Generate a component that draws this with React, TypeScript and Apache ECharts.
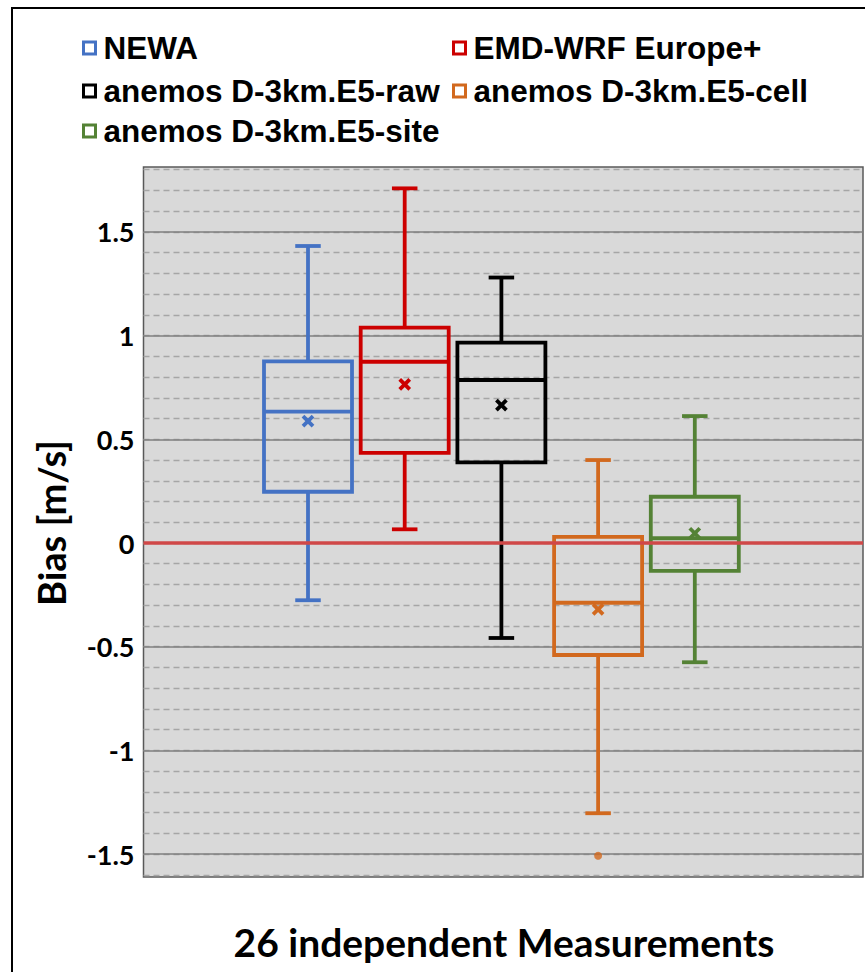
import React, { useEffect, useRef } from 'react';
import * as echarts from 'echarts';

// ---- data ----
const seriesNames = [
  'NEWA',
  'EMD-WRF Europe+',
  'anemos D-3km.E5-raw',
  'anemos D-3km.E5-cell',
  'anemos D-3km.E5-site',
];
const seriesColors = ['#4472C4', '#CC0000', '#000000', '#D2691E', '#548235'];
const whiskerMin = [-0.276, 0.066, -0.458, -1.303, -0.575];
const quartile1 = [0.247, 0.435, 0.389, -0.54, -0.134];
const medians = [0.633, 0.874, 0.786, -0.288, 0.023];
const quartile3 = [0.876, 1.038, 0.966, 0.03, 0.223];
const whiskerMax = [1.432, 1.71, 1.28, 0.4, 0.612];
const means = [0.588, 0.765, 0.665, -0.32, 0.047];
const outliers = [[3, -1.508]];
const majorMin = -1.5;
const majorMax = 1.5;
const majorStep = 0.5;
const minorMin = -1.6;
const minorMax = 1.8;
const minorStep = 0.1;
const zeroLine = [
  [0, 0],
  [1, 0],
];
const yTitle = 'Bias [m/s]';
const xTitle = '26 independent Measurements';

// ---- layout ----
const W = 865;
const H = 972;
const ZERO_Y = 543;
const PX = 207.4; // pixels per unit
const PLOT_LEFT = 143.5;
const PLOT_RIGHT = 863;
const BOX_CENTER0 = 308;
const BOX_STEP = 96.7;
const yOf = (v: number) => ZERO_Y - v * PX;

const legendPos = [
  { left: 82, top: 48 },
  { left: 452, top: 48 },
  { left: 82, top: 91 },
  { left: 452, top: 91 },
  { left: 82, top: 131 },
];

const renderBox = (params: any, api: any) => {
  const i = api.value(0);
  const c = api.visual('color');
  const pMin = api.coord([i, api.value(1)]);
  const pQ1 = api.coord([i, api.value(2)]);
  const pMed = api.coord([i, api.value(3)]);
  const pQ3 = api.coord([i, api.value(4)]);
  const pMax = api.coord([i, api.value(5)]);
  const pMean = api.coord([i, api.value(6)]);
  const band = api.size([1, 0])[0];
  const half = (band * 0.91) / 2;
  const cap = half * 0.29;
  const x = pMed[0];
  const mk = 5;
  const lw = 3.8;
  const ls = { stroke: c, lineWidth: lw, fill: null };
  return {
    type: 'group',
    children: [
      { type: 'line', shape: { x1: x, y1: pMax[1], x2: x, y2: pQ3[1] }, style: ls },
      { type: 'line', shape: { x1: x - cap, y1: pMax[1], x2: x + cap, y2: pMax[1] }, style: ls },
      { type: 'line', shape: { x1: x, y1: pQ1[1], x2: x, y2: pMin[1] }, style: ls },
      { type: 'line', shape: { x1: x - cap, y1: pMin[1], x2: x + cap, y2: pMin[1] }, style: ls },
      {
        type: 'rect',
        shape: { x: x - half, y: pQ3[1], width: 2 * half, height: pQ1[1] - pQ3[1] },
        style: { stroke: c, lineWidth: lw, fill: 'none' },
      },
      { type: 'line', shape: { x1: x - half, y1: pMed[1], x2: x + half, y2: pMed[1] }, style: ls },
      {
        type: 'line',
        shape: { x1: x - mk, y1: pMean[1] - mk, x2: x + mk, y2: pMean[1] + mk },
        style: ls,
      },
      {
        type: 'line',
        shape: { x1: x - mk, y1: pMean[1] + mk, x2: x + mk, y2: pMean[1] - mk },
        style: ls,
      },
    ],
  };
};

export default function App() {
  const ref = useRef<HTMLDivElement>(null);
  useEffect(() => {
    if (!ref.current) return;
    const chart = echarts.init(ref.current, undefined, { renderer: 'svg' });

    const gridMinor = {
      left: PLOT_LEFT,
      width: PLOT_RIGHT - PLOT_LEFT,
      top: yOf(minorMax),
      height: (minorMax - minorMin) * PX,
    };
    const gridMajor = {
      left: PLOT_LEFT,
      width: PLOT_RIGHT - PLOT_LEFT,
      top: yOf(majorMax),
      height: (majorMax - majorMin) * PX,
    };
    const gridBoxes = {
      left: BOX_CENTER0 - BOX_STEP / 2,
      width: BOX_STEP * seriesNames.length,
      top: yOf(minorMax),
      height: (minorMax - minorMin) * PX,
    };

    const legends = seriesNames.map((name, i) => ({
      data: [
        {
          name,
          icon: 'rect',
          itemStyle: { color: '#ffffff', borderColor: seriesColors[i], borderWidth: 3 },
        },
      ],
      left: legendPos[i].left,
      top: legendPos[i].top - 16,
      padding: 0,
      itemWidth: 12,
      itemHeight: 12,
      selectedMode: false,
      textStyle: {
        fontFamily: 'Liberation Sans',
        fontWeight: 'bold',
        fontSize: 31.5,
        lineHeight: 32,
        color: '#000',
        padding: [0, 0, 0, 3],
      },
    }));

    const boxSeries = seriesNames.map((name, i) => ({
      type: 'custom',
      name,
      xAxisIndex: 2,
      yAxisIndex: 2,
      color: seriesColors[i],
      z: 3,
      renderItem: renderBox,
      encode: { x: 0, y: [1, 2, 3, 4, 5, 6] },
      data: [[i, whiskerMin[i], quartile1[i], medians[i], quartile3[i], whiskerMax[i], means[i]]],
    }));

    chart.setOption({
      animation: false,
      backgroundColor: '#ffffff',
      legend: legends,
      grid: [gridMinor, gridMajor, gridBoxes],
      xAxis: [
        { type: 'value', gridIndex: 0, min: 0, max: 1, show: false },
        { type: 'value', gridIndex: 1, min: 0, max: 1, show: false },
        {
          type: 'category',
          gridIndex: 2,
          data: seriesNames,
          show: false,
        },
      ],
      yAxis: [
        {
          type: 'value',
          gridIndex: 0,
          min: minorMin,
          max: minorMax,
          interval: minorStep,
          axisLine: { show: false },
          axisTick: { show: false },
          axisLabel: { show: false },
          splitLine: { show: true, lineStyle: { color: '#a6a6a6', width: 1.3, type: [6, 4] } },
        },
        {
          type: 'value',
          gridIndex: 1,
          min: majorMin,
          max: majorMax,
          interval: majorStep,
          axisLine: { show: false },
          axisTick: { show: false },
          axisLabel: {
            show: true,
            margin: 9,
            fontFamily: 'Lato',
            fontWeight: 'bold',
            fontSize: 27,
            color: '#000',
          },
          splitLine: { show: true, lineStyle: { color: '#7f7f7f', width: 1.6, type: 'solid' } },
        },
        {
          type: 'value',
          gridIndex: 2,
          min: minorMin,
          max: minorMax,
          show: false,
          splitLine: { show: false },
        },
      ],
      graphic: [
        {
          type: 'rect',
          z: -10,
          shape: { x: 12, y: 8, width: 900, height: 1000 },
          style: { fill: '#ffffff', stroke: '#000000', lineWidth: 2 },
        },
        {
          type: 'rect',
          z: -9,
          shape: { x: PLOT_LEFT, y: 167, width: PLOT_RIGHT - PLOT_LEFT, height: 710 },
          style: { fill: '#d9d9d9', stroke: '#595959', lineWidth: 1.5 },
        },
        {
          type: 'text',
          x: 51,
          y: 523,
          rotation: Math.PI / 2,
          style: {
            text: yTitle,
            fontFamily: 'Lato',
            fontWeight: 'bold',
            fontSize: 38,
            fill: '#000',
            align: 'center',
            verticalAlign: 'middle',
          },
        },
        {
          type: 'text',
          x: 504,
          y: 942,
          style: {
            text: xTitle,
            fontFamily: 'Lato',
            fontWeight: 'bold',
            fontSize: 39,
            fill: '#000',
            align: 'center',
            verticalAlign: 'middle',
          },
        },
      ],
      series: [
        ...boxSeries,
        {
          type: 'scatter',
          name: 'outliers',
          xAxisIndex: 2,
          yAxisIndex: 2,
          symbol: 'circle',
          symbolSize: 8,
          itemStyle: { color: seriesColors[3] },
          z: 4,
          data: outliers,
        },
        {
          type: 'line',
          name: 'zero',
          xAxisIndex: 0,
          yAxisIndex: 0,
          symbol: 'none',
          z: 6,
          lineStyle: { color: '#D04848', width: 3.5 },
          data: zeroLine,
        },
      ],
    });
    return () => chart.dispose();
  }, []);
  return (
    <div
      ref={ref}
      style={{ position: 'fixed', left: 0, top: 0, width: W, height: H, background: '#fff' }}
    />
  );
}
